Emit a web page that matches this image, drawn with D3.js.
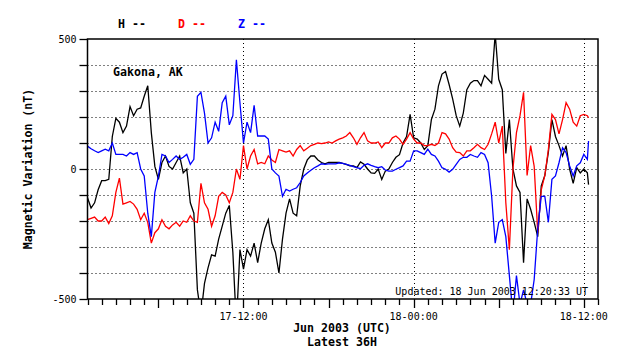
<!DOCTYPE html>
<html>
<head>
<meta charset="utf-8">
<script src="https://cdn.jsdelivr.net/npm/d3@7"></script>
<style>
  body { margin: 0; background: #fff; }
  text { font-family: "DejaVu Sans Mono", monospace; }
</style>
</head>
<body>
<div id="chart"></div>
<script>
// 15 minute samples from 17 Jun 2003 01:00 UT, last sample at 18 Jun 12:20 UT
var startTime = Date.UTC(2003, 5, 17, 1, 0);
var lastTime = Date.UTC(2003, 5, 18, 12, 20);

// H component (nT)
var hValues = [
  -110, -150, -130, -80,   -45, -45, -40, 125,   195, 180, 140, 165,
  240, 205, 230, 235,      280, 320, 140, 10,    -40, 25, 50, 10,
  0, 25, 50, -15,          0, -130, -170, -465,  -560, -440, -380, -330,
  -335, -270, -220, -170,  -140, -320, -600, -310, -385, -310, -335, -285,
  -360, -285, -230, -195,  -285, -320, -400, -270, -170, -115, -170, -180,
  -65, 0, 35, 50,          50, 35, 25, 20,       25, 25, 25, 25,
  22, 18, 12, 12,          5, 27, 18, 0,         -15, -17, 0, -40,
  -8, 0, 25, 45,           55, 100, 125, 210,
  120, 115, 100, 75,       90, 190, 230, 320,    365, 375, 325, 270,
  205, 165, 215, 305,      330, 340, 340, 320,   360, 345, 330, 520,
  345, 305, 60, 190,       0, -65, -90, -360,    -115, -155, -205, -260,
  -65, -25, 65, 190,       125, 90, 50, 90,      0, -55, 5, -15,
  0, -15, -60
];

// D component (nT)
var dValues = [
  -195, -190, -185, -200,  -200, -185, -210, -180, -90, -35, -135, -130,
  -125, -135, -155, -195,  -170, -205, -285, -245, -230, -195, -220, -230,
  -215, -205, -220, -200,  -205, -180, -200, -205, -55, -130, -155, -220,
  -180, -105, -90, -100,   -130, -90, 0, -40,    90, 0, 50, 75,
  20, 25, 20, 50,          35, 25, 75, 70,       65, 70, 50, 75,
  90, 70, 80, 90,          95, 100, 98, 100,     104, 100, 108, 115,
  120, 127, 140, 120,      95, 120, 140, 108,    100, 100, 104, 82,
  100, 100, 120, 127,      115, 95, 115, 140,
  115, 100, 100, 90,       90, 95, 90, 100,      140, 135, 115, 82,
  65, 63, 50, 70,          70, 82, 95, 82,       75, 95, 135, 180,
  100, 165, -130, -310,    0, 140, 205, 295,     -25, 90, 10, -245,
  -80, -25, 75, 210,       190, 135, 190, 255,   230, 180, 165, 205,
  210, 205, 197
];

// Z component (nT)
var zValues = [
  88, 78, 70, 63,          70, 76, 70, 100,      56, 56, 56, 50,
  63, 56, 63, 0,           -27, -170, -260, -90, -27, 56, 50, 25,
  37, 50, 37, 45,          56, 18, 37, 280,      295, 215, 100, 120,
  180, 145, 255, 280,      170, 205, 420, 255,   100, 180, 140, 245,
  127, 127, 127, 115,      0, -15, -27, -105,    -78, -85, -78, -72,
  -52, -27, -15, -5,       5, 12, 20, 18,        20, 20, 20, 24,
  22, 18, 14, 9,           5, 1, 14, 20,         14, 9, 5, 9,
  -4, -8, -8, -1,          5, 12, 30, 30,
  70, 70, 63, 56,          76, 56, 50, 30,       5, -1, -12, -1,
  18, 37, 45, 45,          56, 50, 45, 63,       56, 24, -105, -285,
  -205, -195, -260, -410,  -560, -410, -520, -465, -520, -520, -425, -230,
  -105, -105, -205, -40,   -27, 24, 82, 63,      12, -27, 12, 24,
  56, 37, 108
];

var seriesNames = ["H", "D", "Z"];
var seriesColors = ["#000000", "#ff0000", "#0000ff"];
var yTickLabels = [500, 0, -500];

var times = hValues.map(function(d, i) {
  return i < hValues.length - 1 ? new Date(startTime + i * 15 * 60000) : new Date(lastTime);
});

var width = 638, height = 359;
// plot box (note: "top" is a reserved window global, so use plot* names)
var plotL = 87.5, plotR = 598, plotT = 39, plotB = 299;

var svg = d3.select("#chart").append("svg")
    .attr("width", width)
    .attr("height", height);

var x = d3.scaleUtc()
    .domain([new Date(Date.UTC(2003, 5, 17, 1)), new Date(Date.UTC(2003, 5, 18, 13))])
    .range([plotL, plotR]);
var y = d3.scaleLinear().domain([-500, 500]).range([plotB, plotT]);

svg.append("defs").append("clipPath").attr("id", "plot")
  .append("rect").attr("x", plotL).attr("y", plotT)
  .attr("width", plotR - plotL).attr("height", plotB - plotT);

// dotted grid
var gridY = d3.range(-400, 500, 100);
svg.append("g").selectAll("line").data(gridY).enter().append("line")
    .attr("x1", plotL).attr("x2", plotR)
    .attr("y1", function(d) { return Math.round(y(d)) + 0.5; })
    .attr("y2", function(d) { return Math.round(y(d)) + 0.5; })
    .attr("stroke", "#000").attr("stroke-dasharray", "1,3");

var gridX = [Date.UTC(2003, 5, 17, 12), Date.UTC(2003, 5, 18, 0), Date.UTC(2003, 5, 18, 12)];
svg.append("g").selectAll("line").data(gridX).enter().append("line")
    .attr("x1", function(d) { return Math.round(x(d)) + 0.5; })
    .attr("x2", function(d) { return Math.round(x(d)) + 0.5; })
    .attr("y1", plotT).attr("y2", plotB)
    .attr("stroke", "#000").attr("stroke-dasharray", "1,3");

// the traces
var series = [hValues, dValues, zValues];
var line = d3.line()
    .x(function(d, i) { return x(times[i]); })
    .y(function(d) { return y(d); });

svg.append("g").attr("clip-path", "url(#plot)")
  .selectAll("path").data(series).enter().append("path")
    .attr("d", line)
    .attr("fill", "none")
    .attr("stroke", function(d, i) { return seriesColors[i]; })
    .attr("stroke-width", 1.3);

// frame
svg.append("rect")
    .attr("x", plotL).attr("y", plotT)
    .attr("width", plotR - plotL).attr("height", plotB - plotT)
    .attr("fill", "none").attr("stroke", "#000").attr("stroke-width", 1.5);

// y ticks
var yAxis = d3.axisLeft(y).tickValues(d3.range(-500, 501, 100)).tickSize(8)
    .tickFormat(function(d) { return yTickLabels.indexOf(d) >= 0 ? d : ""; });
var gy = svg.append("g").attr("transform", "translate(" + plotL + ",0)").call(yAxis);
gy.select(".domain").remove();
gy.selectAll("line").attr("stroke-width", 1.3);
gy.selectAll("text").attr("font-family", "DejaVu Sans Mono").attr("font-size", 10).attr("fill", "#000");

// x ticks, hourly, longer every 6 hours
var hours = d3.utcHour.range(x.domain()[0], d3.utcHour.offset(x.domain()[1], 1));
svg.append("g").selectAll("line").data(hours).enter().append("line")
    .attr("x1", function(d) { return Math.round(x(d)) + 0.5; })
    .attr("x2", function(d) { return Math.round(x(d)) + 0.5; })
    .attr("y1", plotB)
    .attr("y2", function(d) { return plotB + (d.getUTCHours() % 6 === 0 ? 9 : 6); })
    .attr("stroke", "#000").attr("stroke-width", 1.3);

var xLabelTimes = [Date.UTC(2003, 5, 17, 12), Date.UTC(2003, 5, 18, 0), Date.UTC(2003, 5, 18, 12)];
var xLabels = ["17-12:00", "18-00:00", "18-12:00"];
svg.append("g").selectAll("text").data(xLabelTimes).enter().append("text")
    .attr("x", function(d) { return x(d); })
    .attr("y", 320)
    .attr("text-anchor", "middle")
    .attr("font-size", 10)
    .text(function(d, i) { return xLabels[i]; });

// titles
var bold = function(sel) { return sel.attr("font-weight", "bold").attr("font-size", 11.6); };

bold(svg.append("text").attr("x", 342).attr("y", 332).attr("text-anchor", "middle"))
    .text("Jun 2003 (UTC)");
bold(svg.append("text").attr("x", 342).attr("y", 346).attr("text-anchor", "middle"))
    .text("Latest 36H");
bold(svg.append("text").attr("transform", "translate(32,169) rotate(-90)").attr("text-anchor", "middle"))
    .text("Magnetic Variation (nT)");
bold(svg.append("text").attr("x", 113).attr("y", 76)).text("Gakona, AK");

svg.append("text").attr("x", 588).attr("y", 295).attr("text-anchor", "end")
    .attr("font-size", 10).text("Updated: 18 Jun 2003 12:20:33 UT");

// legend
var legendX = [118, 178, 238];
seriesNames.forEach(function(name, i) {
  bold(svg.append("text").attr("x", legendX[i]).attr("y", 28))
      .attr("fill", seriesColors[i])
      .text(name + " --");
});
</script>
</body>
</html>
